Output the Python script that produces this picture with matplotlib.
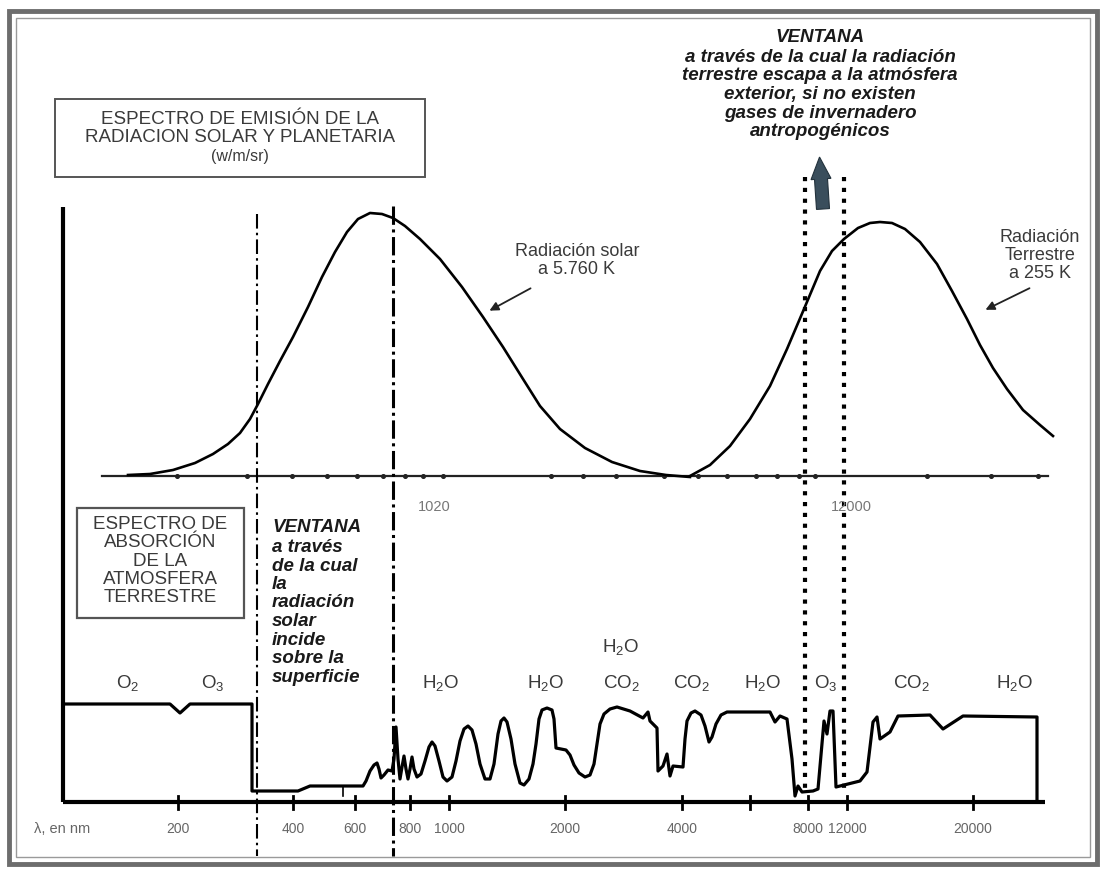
import matplotlib
matplotlib.use("Agg")
import matplotlib.pyplot as plt
from matplotlib.patches import Rectangle

plt.rcParams['font.family'] = ['Liberation Sans', 'DejaVu Sans']
plt.rcParams['mathtext.default'] = 'regular'

# ---------------- data (canvas units) ----------------
solar_x = [128, 150, 173, 195, 213, 228, 240, 250, 258, 268, 280, 293, 308, 322,
           335, 347, 358, 370, 382, 393, 405, 420, 440, 462, 483, 503, 523, 540,
           560, 585, 612, 640, 666, 690]
solar_y = [476, 475, 471, 464, 455, 445, 434, 420, 405, 385, 362, 338, 308, 278,
           253, 233, 220, 214, 215, 219, 227, 240, 260, 288, 318, 348, 380, 407,
           430, 449, 463, 472, 476, 478]

terr_x = [690, 710, 730, 750, 770, 787, 804, 820, 832, 844, 858, 870, 880, 892,
          905, 920, 937, 952, 967, 980, 993, 1007, 1023, 1040, 1053]
terr_y = [477, 466, 447, 420, 387, 350, 310, 272, 252, 240, 229, 224, 223, 224,
          230, 243, 265, 292, 320, 346, 369, 390, 411, 426, 437]

absorb_x = [65, 170, 180, 190, 252, 252, 298, 310, 343, 363, 366, 370, 374, 377,
            379, 381, 384, 388, 392, 394, 396, 398, 400, 402, 404, 406, 408, 410,
            412, 414, 417, 421, 425, 429, 432, 435, 439, 443, 447, 452, 456, 460,
            464, 468, 472, 476, 480, 485, 490, 494, 498, 501, 504, 507, 511, 515,
            520, 524, 529, 533, 536, 539, 542, 547, 552, 554, 556, 566, 570, 574,
            579, 585, 590, 594, 597, 600, 604, 610, 617, 630, 643, 648, 650, 657,
            658, 663, 667, 670, 673, 683, 685, 687, 691, 695, 701, 705, 709, 712,
            716, 721, 727, 770, 775, 780, 787, 792, 795, 798, 802, 813, 818, 824,
            827, 830, 833, 836, 860, 867, 873, 877, 880, 890, 898, 930, 943, 963,
            1037, 1037]
absorb_y = [705, 705, 714, 705, 705, 792, 792, 787, 787, 787, 782, 772, 766, 764,
            770, 779, 776, 771, 772, 760, 728, 760, 780, 768, 757, 770, 780, 770,
            758, 770, 778, 775, 762, 748, 743, 747, 762, 778, 782, 778, 762, 742,
            730, 727, 731, 745, 765, 780, 780, 765, 735, 722, 719, 723, 740, 765,
            784, 786, 780, 765, 745, 720, 711, 709, 711, 720, 749, 751, 756, 766,
            774, 778, 776, 765, 745, 725, 715, 710, 708, 712, 719, 713, 722, 729,
            772, 767, 755, 777, 767, 768, 740, 722, 714, 712, 716, 727, 743, 738,
            725, 716, 713, 713, 723, 717, 720, 760, 797, 787, 793, 792, 790, 722,
            735, 712, 712, 788, 782, 773, 723, 718, 740, 733, 717, 716, 730, 717,
            718, 803]

emis_dot_x = [177, 247, 292, 327, 357, 383, 405, 423, 443, 551, 583, 616, 664,
              698, 727, 756, 777, 799, 815, 927, 991, 1038]

wl_tick_x = [178, 293, 355, 410, 449, 565, 682, 750, 808, 847, 973]
wl_labels = ['200', '400', '600', '800', '1000', '2000', '4000', '', '8000',
             '12000', '20000']

molecules = ['O$_2$', 'O$_3$', 'H$_2$O', 'H$_2$O', 'H$_2$O', 'CO$_2$', 'CO$_2$',
             'H$_2$O', 'O$_3$', 'CO$_2$', 'H$_2$O']
molecule_x = [128, 213, 441, 546, 621, 621, 691, 763, 826, 911, 1015]
molecule_y = [683, 683, 683, 683, 647, 683, 683, 683, 683, 683, 683]

# ---------------- figure ----------------
fig = plt.figure(figsize=(11.04, 8.70), dpi=100)
ax = fig.add_axes([0, 0, 1, 1])
ax.set_xlim(0, 1104)
ax.set_ylim(870, 0)
ax.axis('off')

# outer frame of the scan
ax.add_patch(Rectangle((9, 12), 1088, 853, fill=False, lw=3.5, ec='#6d6d6d'))
ax.add_patch(Rectangle((16, 19), 1074, 839, fill=False, lw=1.0, ec='#9a9a9a'))

# axes lines
ax.plot([63, 63], [208, 803], color='black', lw=3, solid_capstyle='butt')
ax.plot([63, 1045], [803, 803], color='black', lw=3, solid_capstyle='butt')
ax.plot([102, 1048], [477, 477], color='#222222', lw=1.6)
ax.plot(emis_dot_x, [477] * len(emis_dot_x), ls='none', marker='o', ms=2.6,
        color='#222222')

tick_col = '#666666'
# wavelength ticks
for tx, lab in zip(wl_tick_x, wl_labels):
    ax.plot([tx, tx], [797, 810], color='black', lw=2)
    if lab:
        ax.text(tx, 829, lab, ha='center', va='center', fontsize=10,
                color=tick_col)
ax.text(62, 829, 'λ, en nm', ha='center', va='center', fontsize=10.5,
        color=tick_col)

# emission curves
ax.plot(solar_x, solar_y, color='black', lw=1.9, solid_joinstyle='round')
ax.plot(terr_x, terr_y, color='black', lw=1.9, solid_joinstyle='round')

# absorption spectrum
ax.plot(absorb_x, absorb_y, color='black', lw=2.3, solid_joinstyle='round')
ax.plot([343, 343], [787, 797], color='black', lw=1.2)

# visible window (dash-dot lines)
ax.plot([257, 257], [215, 857], color='black', lw=1.5, ls=(0, (7, 2, 1.2, 2)))
ax.plot([393, 393], [207, 857], color='black', lw=2.2, ls=(0, (6, 1.5, 1, 1.5)))

# infrared window (dotted lines)
ax.plot([805, 805], [178, 793], color='black', lw=3, ls=(0, (1, 1.6)))
ax.plot([844, 844], [178, 790], color='black', lw=3, ls=(0, (1, 1.6)))

# escaping radiation arrow
ax.arrow(823, 210, -2, -30, width=13, head_width=20, head_length=22,
         length_includes_head=False, color='#3a4e5c', ec='#22313b', lw=0.8)

# boxes
ax.add_patch(Rectangle((55, 100), 370, 78, fill=False, lw=1.4, ec='#555555'))
ax.add_patch(Rectangle((77, 509), 167, 110, fill=False, lw=1.6, ec='#555555'))

txt = '#3a3a3a'
for s, y in zip(['ESPECTRO DE EMISIÓN DE LA', 'RADIACION SOLAR Y PLANETARIA'],
                [119, 138]):
    ax.text(240, y, s, ha='center', va='center', fontsize=13.5, color=txt)
ax.text(240, 157, '(w/m/sr)', ha='center', va='center', fontsize=11.5, color=txt)

for s, y in zip(['ESPECTRO DE', 'ABSORCIÓN', 'DE LA', 'ATMOSFERA', 'TERRESTRE'],
                [525, 543, 562, 580, 598]):
    ax.text(160, y, s, ha='center', va='center', fontsize=13.5, color=txt)

bi = dict(fontweight='bold', fontstyle='italic', color='#1a1a1a')
# top window text
ax.text(820, 38, 'VENTANA', ha='center', va='center', fontsize=13.5, **bi)
for s, y in zip(['a través de la cual la radiación',
                 'terrestre escapa a la atmósfera',
                 'exterior, si no existen',
                 'gases de invernadero',
                 'antropogénicos'], [57, 76, 94, 113, 131]):
    ax.text(820, y, s, ha='center', va='center', fontsize=13.5, **bi)

# lower window text
ax.text(272, 528, 'VENTANA', ha='left', va='center', fontsize=13.5, **bi)
for s, y in zip(['a través', 'de la cual', 'la', 'radiación', 'solar',
                 'incide', 'sobre la', 'superficie'],
                [548, 567, 585, 603, 622, 641, 659, 678]):
    ax.text(272, y, s, ha='left', va='center', fontsize=13.5, **bi)

# curve labels
ax.text(577, 252, 'Radiación solar', ha='center', va='center', fontsize=13,
        color=txt)
ax.text(577, 270, 'a 5.760 K', ha='center', va='center', fontsize=13,
        color=txt)
ax.annotate('', xy=(487, 313), xytext=(533, 288),
            arrowprops=dict(arrowstyle='-|>', lw=1.3, color='#222222',
                            mutation_scale=13))
for s, y in zip(['Radiación', 'Terrestre', 'a 255 K'], [237, 256, 274]):
    ax.text(1040, y, s, ha='center', va='center', fontsize=13, color=txt)
ax.annotate('', xy=(983, 312), xytext=(1032, 288),
            arrowprops=dict(arrowstyle='-|>', lw=1.3, color='#222222',
                            mutation_scale=13))

# emission axis labels
ax.text(434, 507, '1020', ha='center', va='center', fontsize=10.5, color='#777777')
ax.text(851, 507, '12000', ha='center', va='center', fontsize=10.5, color='#777777')

# molecule labels
for m, mx, my in zip(molecules, molecule_x, molecule_y):
    ax.text(mx, my, m, ha='center', va='center', fontsize=13.5, color=txt)

fig.savefig('out.png', dpi=100, facecolor='white')
